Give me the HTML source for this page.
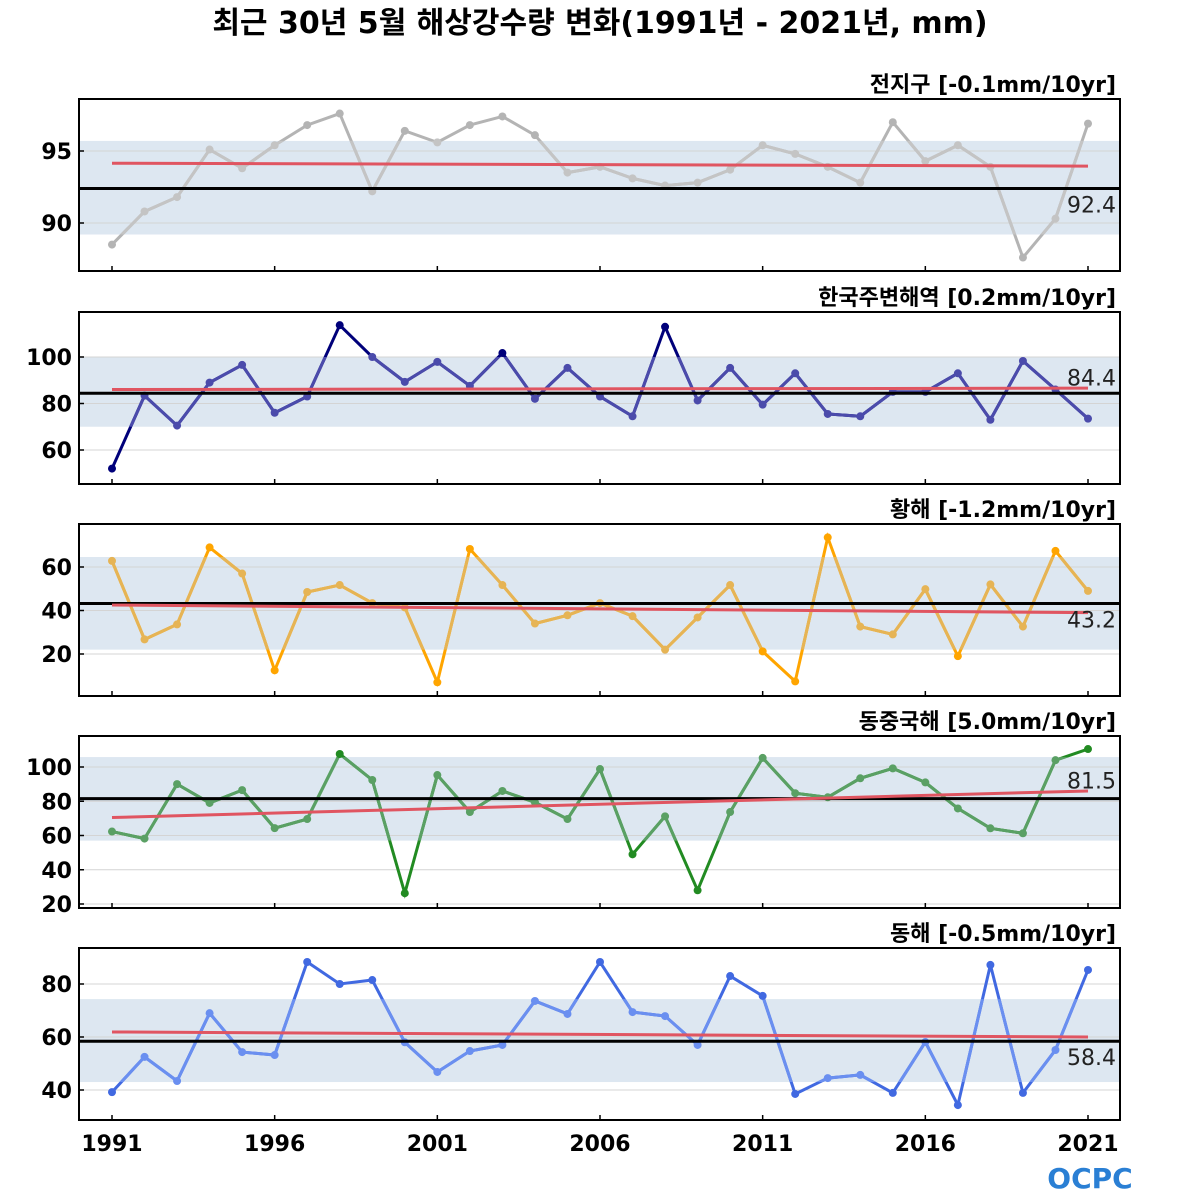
<!DOCTYPE html>
<html><head><meta charset="utf-8"><style>
body{margin:0;background:#fff;}
svg{display:block;font-family:"DejaVu Sans","Liberation Sans","Noto Sans CJK KR",sans-serif;}
</style></head><body>
<svg id="c" width="1200" height="1200" viewBox="0 0 1200 1200" xmlns="http://www.w3.org/2000/svg">
<text x="600" y="33" text-anchor="middle" font-size="30" font-weight="bold" font-family="'DejaVu Sans','Noto Sans CJK KR',sans-serif">최근 30년 5월 해상강수량 변화(1991년 - 2021년, mm)</text>
<g><text x="1090" y="1188" text-anchor="middle" font-size="28" font-weight="bold" fill="#2a7fd4" font-family="'DejaVu Sans',sans-serif">OCPC</text></g>
</svg>
<script>
const years=[1991,1992,1993,1994,1995,1996,1997,1998,1999,2000,2001,2002,2003,2004,2005,2006,2007,2008,2009,2010,2011,2012,2013,2014,2015,2016,2017,2018,2019,2020,2021];
const xTicks=[1991,1996,2001,2006,2011,2016,2021];
const titles=["전지구 [-0.1mm/10yr]","한국주변해역 [0.2mm/10yr]","황해 [-1.2mm/10yr]","동중국해 [5.0mm/10yr]","동해 [-0.5mm/10yr]"];
const s1=[88.5,90.8,91.8,95.1,93.8,95.4,96.8,97.6,92.2,96.4,95.6,96.8,97.4,96.1,93.5,93.9,93.1,92.6,92.8,93.7,95.4,94.8,93.9,92.8,97.0,94.3,95.4,93.9,87.6,90.3,96.9];
const s2=[52,83.4,70.5,89,96.6,76,83,113.7,100,89.3,97.9,87.6,101.7,82,95.3,83,74.5,113,81.3,95.3,79.5,93,75.5,74.5,85,85,93,73,98.3,86,73.5];
const s3=[62.8,26.7,33.6,69,57,12.5,48.5,51.7,43.4,41.4,7,68.3,51.7,34,37.8,43.4,37.4,22,36.8,51.7,21.2,7.4,73.6,32.6,29,49.8,19,52,32.6,67.4,49];
const s4=[62.3,58.2,90,79,86.5,64.3,69.6,107.6,92.4,26.3,95.3,73.7,86,79.4,69.6,98.8,49,71.2,28,73.7,105.3,84.7,82.3,93.4,99.2,91,75.8,64.2,61.3,104,110.5];
const s5=[39.2,52.5,43.4,69,54.3,53.2,88.3,80,81.5,58,46.8,54.7,57,73.6,68.7,88.3,69.4,67.9,57,83,75.5,38.5,44.5,45.7,38.9,58.1,34.3,87.2,38.9,55.1,85.3];
const series=[s1,s2,s3,s4,s5];
const means=[92.4,84.4,43.2,81.5,58.4];
const bandLo=[89.2,70,22,57,43];
const bandHi=[95.7,100,64.6,105.8,74.3];
const trendStart=[94.15,86.0,42.5,70.5,61.9];
const trendEnd=[93.95,86.6,39.0,86.0,60.0];
const yTicks=[[90,95],[60,80,100],[20,40,60],[20,40,60,80,100],[40,60,80]];
// layout / style (not data)
const panelTop=[99,312,524,736,948], PH=172, X0=79, X1=1120;
const scaleRef=[[95,151,90,223],[100,357,60,450],[60,567,20,654],[100,767,20,904],[80,984,40,1090]];
const lightC=["#c4c4c4","#4b4bab","#e6b455","#5aa064","#6a8ff0"];
const darkC=["#b4b4b4","#00007a","#ffa500","#228b22","#4169e1"];
const labelDy=[24,-8,24,-10,24];
const svg=document.getElementById('c');
const NS="http://www.w3.org/2000/svg";
function el(t,a,p){const e=document.createElementNS(NS,t);for(const k in a)e.setAttribute(k,a[k]);(p||svg).appendChild(e);return e;}
const xs=y=>112+(y-1991)*(1088-112)/30;
series.forEach((d,i)=>{
  const [v1,y1,v2,y2]=scaleRef[i];
  const ys=v=>y1+(v-v1)*(y2-y1)/(v2-v1);
  const top=panelTop[i];
  const g=el('g',{});
  
  
  const cid='clip'+i;
  const cp=el('clipPath',{id:cid},g);el('rect',{x:X0,y:top,width:X1-X0,height:PH},cp);
  const bid='band'+i;
  const bp=el('clipPath',{id:bid},g);el('rect',{x:X0,y:ys(bandHi[i]),width:X1-X0,height:ys(bandLo[i])-ys(bandHi[i])},bp);
  const inner=el('g',{'clip-path':'url(#'+cid+')'},g);
  const band=el('rect',{x:X0,y:ys(bandHi[i]),width:X1-X0,height:ys(bandLo[i])-ys(bandHi[i]),fill:'#dde7f1'},inner);
  
  
  yTicks[i].forEach(t=>{el('line',{x1:X0,x2:X1,y1:ys(t),y2:ys(t),stroke:'#d4d4d4','stroke-width':1},inner);});
  const pts=d.map((v,k)=>xs(years[k])+','+ys(v)).join(' ');
  const dl=el('polyline',{points:pts,fill:'none',stroke:darkC[i],'stroke-width':3},inner);
  
  
  const ll=el('polyline',{points:pts,fill:'none',stroke:lightC[i],'stroke-width':3,'clip-path':'url(#'+bid+')'},inner);
  
  
  d.forEach((v,k)=>{
    const out=v<bandLo[i]||v>bandHi[i];
    const c=el('circle',{cx:xs(years[k]),cy:ys(v),r:4,fill:out?darkC[i]:lightC[i]},inner);
    
    
  });
  const ml=el('line',{x1:X0,x2:X1,y1:ys(means[i]),y2:ys(means[i]),stroke:'#000','stroke-width':3},inner);
  
  
  const tl=el('line',{x1:xs(1991),x2:xs(2021),y1:ys(trendStart[i]),y2:ys(trendEnd[i]),stroke:'#e05561','stroke-width':3},inner);
  
  
  const mt=el('text',{x:1116,y:ys(means[i])+labelDy[i],'text-anchor':'end','font-size':22,fill:'#222'},g);
  mt.textContent=means[i].toFixed(1);
  
  
  const fr=el('rect',{x:X0,y:top,width:X1-X0,height:PH,fill:'none',stroke:'#000','stroke-width':2},g);
  
  
  xTicks.forEach(t=>{el('line',{x1:xs(t),x2:xs(t),y1:top+PH,y2:top+PH-5,stroke:'#000','stroke-width':1.5},g);});
  yTicks[i].forEach(t=>{
    el('line',{x1:X0,x2:X0+5,y1:ys(t),y2:ys(t),stroke:'#000','stroke-width':1.5},g);
    const tx=el('text',{x:72,y:ys(t)+8,'text-anchor':'end','font-size':22,'font-weight':'bold'},g);
    tx.textContent=t;
    
    
  });
  const tt=el('text',{x:1116,y:top-7,'text-anchor':'end','font-size':22,'font-weight':'bold'},g);
  tt.textContent=titles[i];
  
  
});
xTicks.forEach(t=>{
  const tx=el('text',{x:xs(t),y:1151,'text-anchor':'middle','font-size':22,'font-weight':'bold'});
  tx.textContent=t;
  
  
});
</script>
</body></html>
